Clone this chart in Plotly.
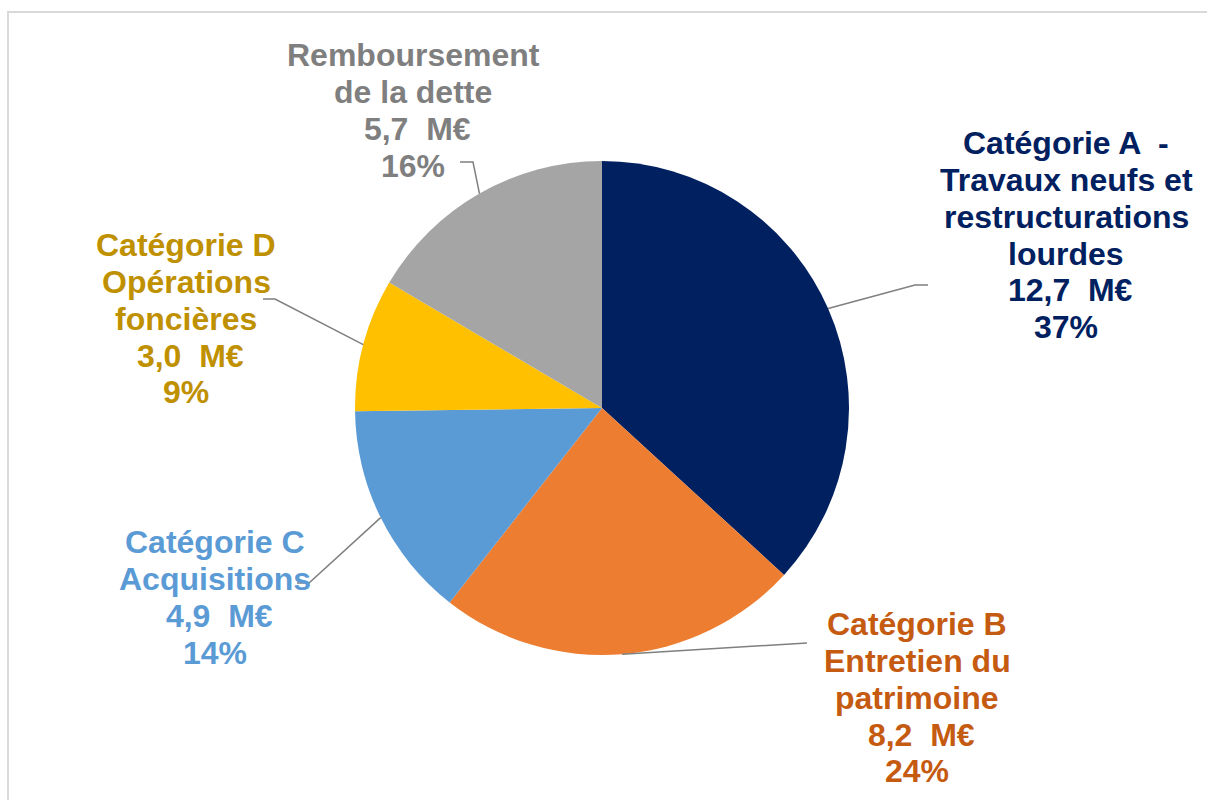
import math
import plotly.graph_objects as go

# ---- data ----
categories = [
    "Catégorie A - Travaux neufs et restructurations lourdes",
    "Catégorie B Entretien du patrimoine",
    "Catégorie C Acquisitions",
    "Catégorie D Opérations foncières",
    "Remboursement de la dette",
]
label_lines = [
    ["Catégorie A  -", "Travaux neufs et", "restructurations", "lourdes"],
    ["Catégorie B", "Entretien du", "patrimoine"],
    ["Catégorie C", "Acquisitions"],
    ["Catégorie D", "Opérations", "foncières"],
    ["Remboursement", "de la dette"],
]
values = [12.7, 8.2, 4.9, 3.0, 5.7]          # M€
value_labels = ["12,7", "8,2", "4,9", "3,0", "5,7"]
percent_labels = ["37%", "24%", "14%", "9%", "16%"]

slice_colors = ["#002060", "#ED7D31", "#5B9BD5", "#FFC000", "#A5A5A5"]
text_colors = ["#002060", "#C55A11", "#5B9BD5", "#BF9000", "#7F7F7F"]

# ---- layout (pixels) ----
W, H = 1207, 800
CX, CY, R = 602, 408, 247
FS = 32
LINE_H = 36.7
# label block: center x, first baseline y
label_pos = [(1066, 154), (917, 635), (215, 553), (186, 256), (413, 66)]
# leader: elbow point, end point
leaders = [((915, 285), (928, 285)),
           ((807, 643), (807, 643)),
           ((309, 583), (297, 583)),
           ((275, 299), (263, 299)),
           ((473, 162), (460, 162))]


def px(x):
    return x / W


def py(y):
    return 1 - y / H


fig = go.Figure(go.Pie(
    labels=categories,
    values=values,
    sort=False,
    direction="clockwise",
    rotation=0,
    marker=dict(colors=slice_colors, line=dict(width=0)),
    textinfo="none",
    hoverinfo="label+value+percent",
    showlegend=False,
    domain=dict(x=[px(CX - R), px(CX + R)], y=[py(CY + R), py(CY - R)]),
))

annotations = []
shapes = []
total = sum(values)
cum = 0.0
NB = "\u00a0"
for i, v in enumerate(values):
    mid = (cum + v / 2) / total * 2 * math.pi
    cum += v
    sx = CX + R * math.sin(mid)
    sy = CY - R * math.cos(mid)
    (ex, ey), (tx, ty) = leaders[i]
    shapes.append(dict(type="path", xref="paper", yref="paper",
                       path=f"M {px(sx)} {py(sy)} L {px(ex)} {py(ey)} L {px(tx)} {py(ty)}",
                       line=dict(color="#7F7F7F", width=1.5)))
    lines = label_lines[i] + [NB + value_labels[i] + NB + NB + "M€", percent_labels[i]]
    lx, ly = label_pos[i]
    for k, t in enumerate(lines):
        base = ly + k * LINE_H
        annotations.append(dict(
            x=px(lx), y=py(base - 0.33 * FS), xref="paper", yref="paper",
            text=t, showarrow=False, xanchor="center", yanchor="middle",
            font=dict(family="Liberation Sans, Arial, sans-serif", size=FS,
                      color=text_colors[i], weight="bold"),
        ))

# outer frame
shapes.append(dict(type="rect", xref="paper", yref="paper",
                   x0=px(8), x1=1.02, y0=-0.02, y1=py(12),
                   line=dict(color="#D9D9D9", width=2), fillcolor="rgba(0,0,0,0)"))

fig.update_layout(
    width=W, height=H,
    margin=dict(l=0, r=0, t=0, b=0),
    paper_bgcolor="white", plot_bgcolor="white",
    annotations=annotations, shapes=shapes,
)

fig.write_html("out.html",
               config={"displayModeBar": False},
               post_script="document.body.style.margin='0';"
                           "document.body.style.overflow='hidden';")
